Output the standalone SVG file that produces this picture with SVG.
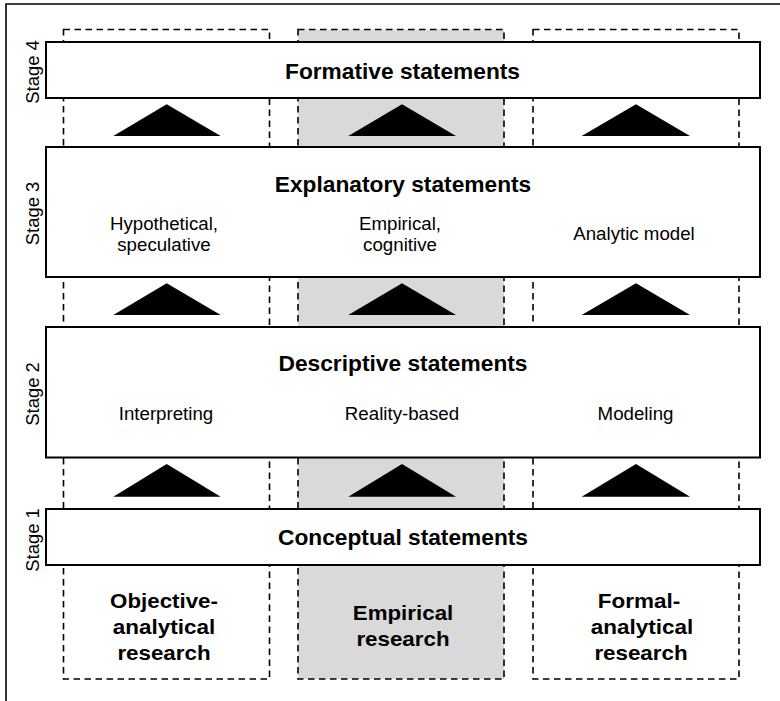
<svg xmlns="http://www.w3.org/2000/svg" width="780" height="701" viewBox="0 0 780 701">
<style>
.frame{fill:none;stroke:#000;stroke-width:1.6}
.col{fill:#fff;stroke:#000;stroke-width:1.6;stroke-dasharray:6.5 4.5}
.col.gray{fill:#d9d9d9}
.box{fill:#fff;stroke:#000;stroke-width:2}
.tri{fill:#000}
.h{font-family:"Liberation Sans",Arial,sans-serif;font-weight:bold;font-size:21.5px;text-anchor:middle;fill:#000}
.b{font-family:"Liberation Sans",Arial,sans-serif;font-weight:bold;font-size:21px;text-anchor:middle;fill:#000}
.s{font-family:"Liberation Sans",Arial,sans-serif;font-size:18.7px;text-anchor:middle;fill:#000}
.st{font-family:"Liberation Sans",Arial,sans-serif;font-size:18.4px;text-anchor:middle;fill:#000}
</style>
<rect width="780" height="701" fill="#fff"/>
<path class="frame" d="M6,701 V4 H780"/>
<g id="col-objective">
<rect class="col" x="63.5" y="29.5" width="206" height="649.5"/>
<text class="b" x="164" y="608" textLength="107.8" lengthAdjust="spacingAndGlyphs">Objective-</text>
<text class="b" x="164" y="634" textLength="102.5" lengthAdjust="spacingAndGlyphs">analytical</text>
<text class="b" x="164" y="660" textLength="93.2" lengthAdjust="spacingAndGlyphs">research</text>
</g>
<g id="col-empirical">
<rect class="col gray" x="298" y="29.5" width="206" height="649.5"/>
<text class="b" x="403" y="619.5" textLength="100.5" lengthAdjust="spacingAndGlyphs">Empirical</text>
<text class="b" x="403" y="645.5" textLength="93.2" lengthAdjust="spacingAndGlyphs">research</text>
</g>
<g id="col-formal">
<rect class="col" x="533" y="29.5" width="206" height="649.5"/>
<text class="b" x="639" y="608" textLength="82.5" lengthAdjust="spacingAndGlyphs">Formal-</text>
<text class="b" x="642" y="634" textLength="102.5" lengthAdjust="spacingAndGlyphs">analytical</text>
<text class="b" x="641" y="660" textLength="93.2" lengthAdjust="spacingAndGlyphs">research</text>
</g>
<g id="connectors">
<polygon class="tri" points="166.7,104.3 220.7,136 113.3,136"/>
<polygon class="tri" points="402,104.3 456,136 348.3,136"/>
<polygon class="tri" points="636,104.3 690,136 581.7,136"/>
<polygon class="tri" points="166.7,283.3 220.7,315 113.3,315"/>
<polygon class="tri" points="402,283.3 456,315 348.3,315"/>
<polygon class="tri" points="636,283.3 690,315 581.7,315"/>
<polygon class="tri" points="166.7,464 220.7,496.7 113.3,496.7"/>
<polygon class="tri" points="402,464 456,496.7 348.3,496.7"/>
<polygon class="tri" points="636,464 690,496.7 581.7,496.7"/>
</g>
<g id="stage4">
<rect class="box" x="46" y="42" width="714" height="56"/>
<text class="h" x="402.5" y="79.3" textLength="235" lengthAdjust="spacingAndGlyphs">Formative statements</text>
<text class="st" transform="translate(38.5,72) rotate(-90)">Stage 4</text>
</g>
<g id="stage3">
<rect class="box" x="46" y="147" width="714" height="130"/>
<text class="h" x="403" y="191.7" textLength="256.5" lengthAdjust="spacingAndGlyphs">Explanatory statements</text>
<text class="s" x="164" y="229.5">Hypothetical,</text>
<text class="s" x="164" y="251">speculative</text>
<text class="s" x="400" y="229.5">Empirical,</text>
<text class="s" x="400" y="251">cognitive</text>
<text class="s" x="634" y="240.3">Analytic model</text>
<text class="st" transform="translate(38.5,213.5) rotate(-90)">Stage 3</text>
</g>
<g id="stage2">
<rect class="box" x="46" y="327" width="714" height="130.5"/>
<text class="h" x="403" y="371" textLength="249" lengthAdjust="spacingAndGlyphs">Descriptive statements</text>
<text class="s" x="166" y="420">Interpreting</text>
<text class="s" x="402" y="420">Reality-based</text>
<text class="s" x="635.5" y="420">Modeling</text>
<text class="st" transform="translate(38.5,394) rotate(-90)">Stage 2</text>
</g>
<g id="stage1">
<rect class="box" x="46" y="509" width="714" height="56"/>
<text class="h" x="403" y="545" textLength="250" lengthAdjust="spacingAndGlyphs">Conceptual statements</text>
<text class="st" transform="translate(38.5,540) rotate(-90)">Stage 1</text>
</g>
</svg>
